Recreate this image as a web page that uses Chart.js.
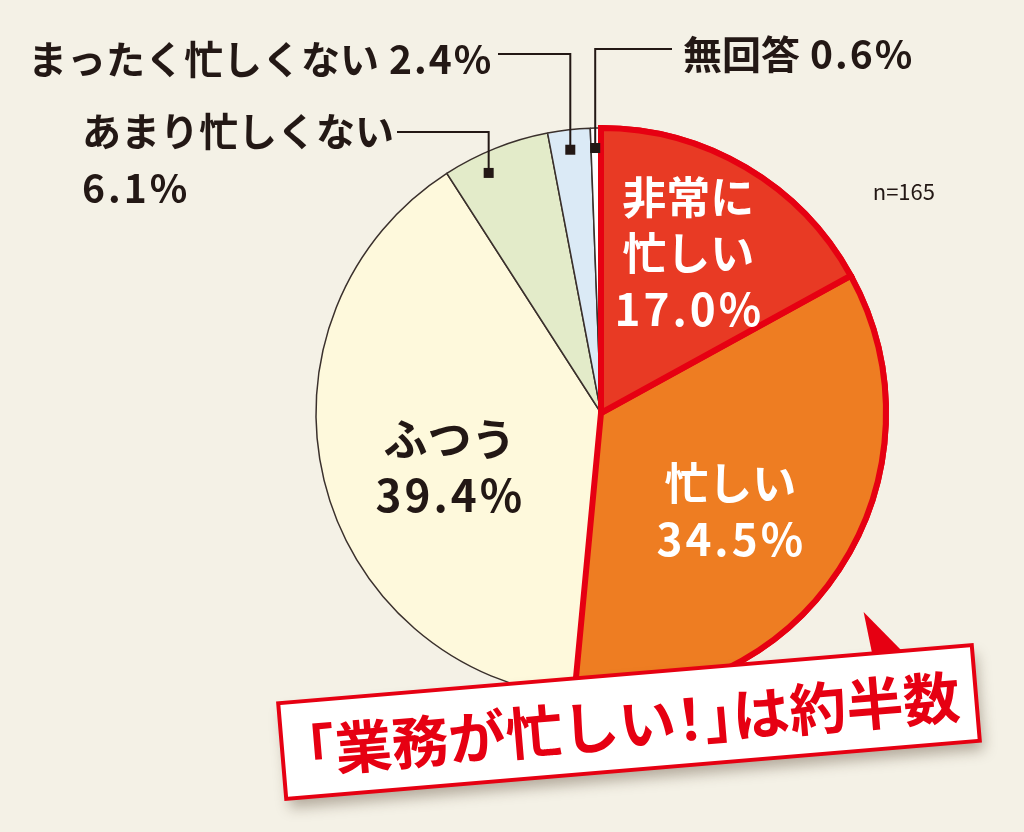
<!DOCTYPE html>
<html lang="ja">
<head>
<meta charset="utf-8">
<title>業務の忙しさ</title>
<script src="https://cdn.jsdelivr.net/npm/chart.js@4.4.1/dist/chart.umd.min.js"></script>
<style>
html, body { margin: 0; padding: 0; background: #f4f1e6; }
#wrap { width: 1024px; height: 832px; }
</style>
</head>
<body>
<div id="wrap"><canvas id="myChart" width="1024" height="832"></canvas></div>
<script>
// data
var labels = ['非常に忙しい', '忙しい', 'ふつう', 'あまり忙しくない', 'まったく忙しくない', '無回答'];
var labelLines = [['非常に', '忙しい'], ['忙しい'], ['ふつう'], ['あまり忙しくない'], ['まったく忙しくない'], ['無回答']];
var values = [17.0, 34.5, 39.4, 6.1, 2.4, 0.6];
var sampleSize = 165;
var headline = '「業務が忙しい！」は約半数';

var colors = ['#e83a24', '#ee7d22', '#fef9dc', '#e3ebc9', '#dbeaf6', '#ffffff'];
var borders = ['#e60012', '#e60012', '#3a302c', '#3a302c', '#3a302c', '#3a302c'];
var borderWidths = [6, 6, 1.5, 1.5, 1.5, 1.5];

var FONT = '"Noto Sans CJK JP", "Noto Sans", sans-serif';
var INK = '#231815';
var RED = '#e60012';

// label placement inside the big slices
var insideStyle = [
	{ r: 0.64, shift: -2, color: '#ffffff' },
	{ r: 0.57, shift: 4, color: '#ffffff' },
	{ r: 0.565, shift: -6, color: INK }
];
// small slices get a leader line
var outsideStyle = {
	3: { pos: 0.35, lineY: 132, lineX: 397, textX: 82, textY: 131, inline: false },
	4: { pos: 0.48, lineY: 54, lineX: 498, textX: 28, textY: 59, inline: true },
	5: { pos: 0.42, lineY: 49, lineX: 672, textX: 683, textY: 54, inline: true }
};

function pct(v) { return v.toFixed(1) + '%'; }

// number text a little wider, like the original typeface
function numText(ctx, t, x, y, sp) {
	ctx.save();
	ctx.letterSpacing = sp + 'px';
	ctx.fillText(t, x, y);
	ctx.restore();
}

// headline with tight (half width) punctuation
function tightText(ctx, t, cx, cy, size) {
	var parts = [];
	var total = 0;
	for (var i = 0; i < t.length; i++) {
		var ch = t[i];
		var w = ctx.measureText(ch).width;
		var adv = w, dx = 0;
		if (ch === '「') { adv = size * 0.5; dx = -size * 0.5; }
		else if (ch === '」') { adv = size * 0.5; }
		else if (ch === '！') { adv = size * 0.5; dx = -size * 0.25; }
		parts.push({ ch: ch, adv: adv, dx: dx });
		total += adv;
	}
	var x = cx - total / 2;
	ctx.textAlign = 'left';
	parts.forEach(function(p) {
		ctx.fillText(p.ch, x + p.dx, cy);
		x += p.adv;
	});
}

var labelPlugin = {
	id: 'labelPlugin',
	afterDatasetsDraw: function(chart) {
		var ctx = chart.ctx;
		var meta = chart.getDatasetMeta(0);
		// put the red outlined slices back on top so their border is not covered
		meta.data[1].draw(ctx);
		meta.data[0].draw(ctx);

		ctx.save();
		ctx.textBaseline = 'middle';

		// labels inside
		insideStyle.forEach(function(st, i) {
			var arc = meta.data[i];
			var mid = (arc.startAngle + arc.endAngle) / 2 + st.shift * Math.PI / 180;
			var d = arc.outerRadius * st.r;
			var ax = arc.x + Math.cos(mid) * d;
			var ay = arc.y + Math.sin(mid) * d;
			var lines = labelLines[i];
			var n = lines.length + 1;
			var lh = 56;
			ctx.fillStyle = st.color;
			ctx.textAlign = 'center';
			ctx.font = 'bold 44px ' + FONT;
			lines.forEach(function(t, k) {
				ctx.fillText(t, ax, ay + (k - (n - 1) / 2) * lh);
			});
			numText(ctx, pct(values[i]), ax + 1, ay + ((n - 1) / 2) * lh, 3);
		});

		// labels outside with leader lines
		Object.keys(outsideStyle).forEach(function(key) {
			var i = +key;
			var st = outsideStyle[key];
			var arc = meta.data[i];
			var a = arc.startAngle + (arc.endAngle - arc.startAngle) * st.pos;
			var px = arc.x + Math.cos(a) * arc.outerRadius * 0.93;
			var py = arc.y + Math.sin(a) * arc.outerRadius * 0.93;
			ctx.strokeStyle = INK;
			ctx.lineWidth = 2;
			ctx.beginPath();
			ctx.moveTo(px, py);
			ctx.lineTo(px, st.lineY);
			ctx.lineTo(st.lineX, st.lineY);
			ctx.stroke();
			ctx.fillStyle = INK;
			ctx.fillRect(px - 5, py - 5, 10, 10);

			ctx.textAlign = 'left';
			ctx.font = 'bold 39px ' + FONT;
			var lbl = labelLines[i][0];
			if (st.inline) {
				var w = ctx.measureText(lbl).width;
				ctx.fillText(lbl, st.textX, st.textY);
				numText(ctx, pct(values[i]), st.textX + w + 10, st.textY, 2);
			} else {
				ctx.fillText(lbl, st.textX, st.textY);
				numText(ctx, pct(values[i]), st.textX, st.textY + 57, 3);
			}
		});

		// sample size
		ctx.fillStyle = INK;
		ctx.textAlign = 'right';
		ctx.font = '22px ' + FONT;
		ctx.fillText('n=' + sampleSize, 935, 192);

		ctx.restore();
	},
	afterDraw: function(chart) {
		// headline callout box
		var ctx = chart.ctx;
		ctx.save();
		ctx.translate(629, 722);
		ctx.rotate(-4.8 * Math.PI / 180);

		ctx.shadowColor = 'rgba(60, 40, 20, 0.35)';
		ctx.shadowBlur = 14;
		ctx.shadowOffsetX = 4;
		ctx.shadowOffsetY = 9;
		ctx.fillStyle = '#ffffff';
		ctx.fillRect(-348, -48, 696, 96);
		ctx.shadowColor = 'transparent';

		ctx.strokeStyle = RED;
		ctx.lineWidth = 4;
		ctx.strokeRect(-348, -48, 696, 96);

		ctx.fillStyle = RED;
		ctx.beginPath();
		ctx.moveTo(243, -90);
		ctx.lineTo(248, -48);
		ctx.lineTo(278, -48);
		ctx.closePath();
		ctx.fill();

		ctx.textBaseline = 'middle';
		ctx.font = 'bold 57px ' + FONT;
		tightText(ctx, headline, 4, 2, 57);
		ctx.restore();
	}
};

var myChart = document.getElementById('myChart').getContext('2d');
var BusyChart = new Chart(myChart, {
	type: 'pie',
	data: {
		labels: labels,
		datasets: [{
			label: '業務の忙しさ',
			data: values,
			backgroundColor: colors,
			borderColor: borders,
			borderWidth: borderWidths,
			borderJoinStyle: 'miter',
			radius: 285
		}]
	},
	options: {
		responsive: false,
		animation: false,
		events: [],
		layout: { padding: { left: 200, right: 22, top: 0, bottom: 6 } },
		plugins: {
			legend: { display: false },
			tooltip: { enabled: false }
		}
	},
	plugins: [labelPlugin]
});
</script>
</body>
</html>
